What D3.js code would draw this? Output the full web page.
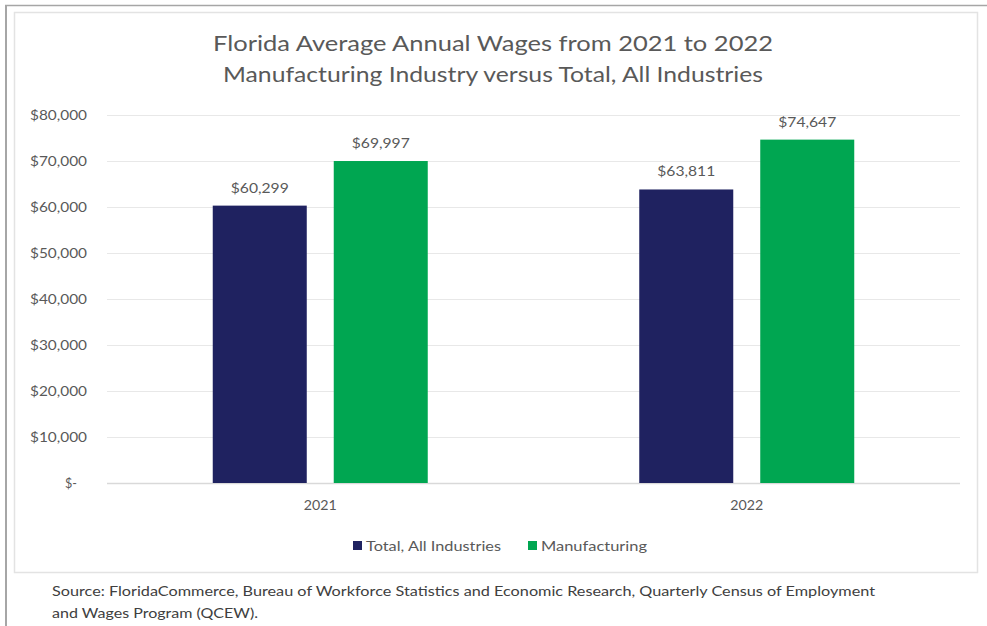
<!DOCTYPE html>
<html>
<head>
<meta charset="utf-8">
<script src="https://cdn.jsdelivr.net/npm/d3@7"></script>
<style>
  html, body { margin: 0; padding: 0; background: #fff; }
  svg { display: block; }
</style>
</head>
<body>
<svg id="chart" width="987" height="626"></svg>
<script>
const years = ["2021", "2022"];
const seriesNames = ["Total, All Industries", "Manufacturing"];
const totalAll = [60299, 63811];
const manufacturing = [69997, 74647];
const yTicks = [0, 10000, 20000, 30000, 40000, 50000, 60000, 70000, 80000];
const titleLines = ["Florida Average Annual Wages from 2021 to 2022", "Manufacturing Industry versus Total, All Industries"];
const sourceLines = ["Source: FloridaCommerce, Bureau of Workforce Statistics and Economic Research, Quarterly Census of Employment", "and Wages Program (QCEW)."];
const colors = ["#1f2260", "#00a651"];

const svg = d3.select("#chart");
const font = "Lato, 'Open Sans', 'Liberation Sans', sans-serif";

// fit a text element horizontally to a target width (condensed look of the original)
function fit(sel, w) { return sel.attr("textLength", w).attr("lengthAdjust", "spacingAndGlyphs"); }

// page frame
svg.append("line").attr("x1", 5).attr("x2", 987).attr("y1", 5.5).attr("y2", 5.5).attr("stroke", "#a6a6a6").attr("stroke-width", 1.5);
svg.append("line").attr("x1", 6).attr("x2", 6).attr("y1", 5).attr("y2", 626).attr("stroke", "#a6a6a6").attr("stroke-width", 2);

// chart box
svg.append("rect").attr("x", 14.5).attr("y", 12.5).attr("width", 963).attr("height", 560).attr("fill", "#fff").attr("stroke", "#e3e3e3").attr("stroke-width", 1.5);

// title
const titleWidths = [560, 540];
titleLines.forEach((t, i) => {
  fit(svg.append("text").attr("x", 493).attr("y", 51 + i * 31).attr("text-anchor", "middle")
    .attr("font-family", font).attr("font-size", 21).attr("fill", "#595959").text(t), titleWidths[i]);
});

// scales
const y = d3.scaleLinear().domain([0, 80000]).range([483, 115]);
const x0 = d3.scaleBand().domain(years).range([107, 960]).paddingInner(0).paddingOuter(0);
const x1 = d3.scaleBand().domain(seriesNames).range([-107.5, 107.5]).paddingInner(0.223).paddingOuter(0);

// gridlines
svg.append("g").selectAll("line").data(yTicks).join("line")
  .attr("x1", 107).attr("x2", 960).attr("y1", d => y(d) + 0.5).attr("y2", d => y(d) + 0.5)
  .attr("stroke", d => d === 0 ? "#d9d9d9" : "#e8e8e8").attr("stroke-width", d => d === 0 ? 1.5 : 1.2);

// y axis labels
const fmt = d => d === 0 ? "$-" : "$" + d3.format(",")(d);
svg.append("g").selectAll("text").data(yTicks).join("text")
  .attr("x", d => d === 0 ? 77 : 87).attr("y", d => y(d) + 5).attr("text-anchor", "end")
  .attr("font-family", font).attr("font-size", 14).attr("fill", "#595959")
  .attr("textLength", d => d === 0 ? 12 : 57).attr("lengthAdjust", "spacingAndGlyphs").text(fmt);

// bars
const data = years.map((yr, i) => ({ year: yr, values: [totalAll[i], manufacturing[i]] }));
const groups = svg.append("g").selectAll("g").data(data).join("g")
  .attr("transform", d => `translate(${x0(d.year) + x0.bandwidth() / 2},0)`);
groups.selectAll("rect").data(d => d.values.map((v, j) => ({ name: seriesNames[j], v, j }))).join("rect")
  .attr("x", d => x1(d.name)).attr("width", x1.bandwidth())
  .attr("y", d => y(d.v)).attr("height", d => y(0) - y(d.v))
  .attr("fill", d => colors[d.j]);
groups.selectAll("text").data(d => d.values.map((v, j) => ({ name: seriesNames[j], v, j }))).join("text")
  .attr("x", d => x1(d.name) + x1.bandwidth() / 2).attr("y", d => y(d.v) - 13)
  .attr("text-anchor", "middle").attr("font-family", font).attr("font-size", 14).attr("fill", "#595959")
  .attr("textLength", 58).attr("lengthAdjust", "spacingAndGlyphs")
  .text(d => "$" + d3.format(",")(d.v));

// x labels
svg.append("g").selectAll("text").data(years).join("text")
  .attr("x", d => x0(d) + x0.bandwidth() / 2).attr("y", 510).attr("text-anchor", "middle")
  .attr("font-family", font).attr("font-size", 14).attr("fill", "#595959")
  .attr("textLength", 33).attr("lengthAdjust", "spacingAndGlyphs").text(d => d);

// legend
const legendX = [353, 528];
const legendW = [135, 106];
seriesNames.forEach((n, i) => {
  svg.append("rect").attr("x", legendX[i]).attr("y", 541).attr("width", 9).attr("height", 9).attr("fill", colors[i]);
  fit(svg.append("text").attr("x", legendX[i] + 13).attr("y", 551).attr("font-family", font).attr("font-size", 14)
    .attr("fill", "#595959").text(n), legendW[i]);
});

// source
const sourceWidths = [823, 206];
sourceLines.forEach((t, i) => {
  fit(svg.append("text").attr("x", 52).attr("y", 596 + i * 22).attr("font-family", font)
    .attr("font-size", 14).attr("fill", "#404040").text(t), sourceWidths[i]);
});
</script>
</body>
</html>
